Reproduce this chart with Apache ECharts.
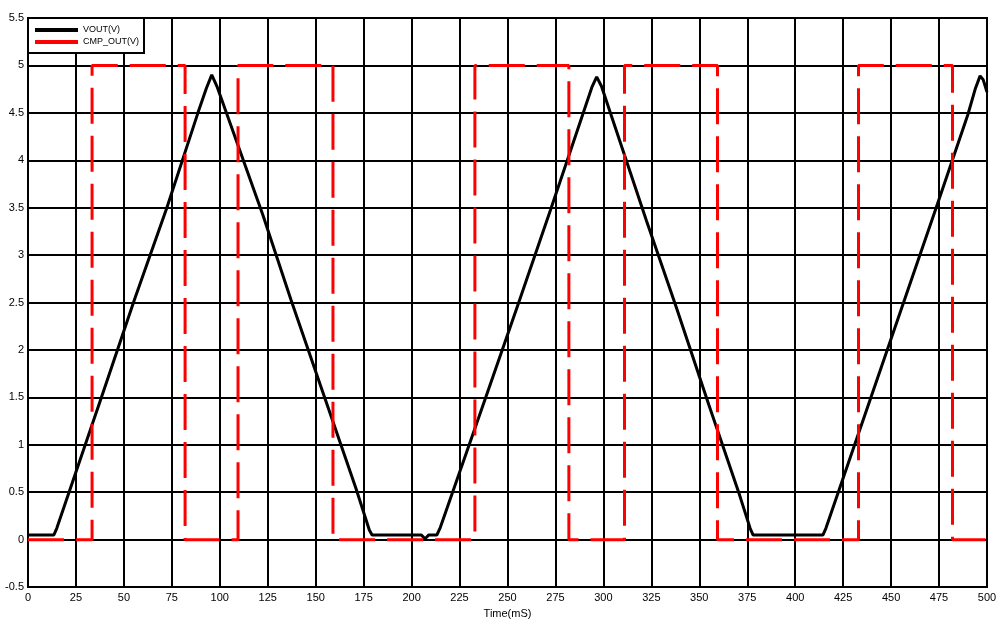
<!DOCTYPE html>
<html>
<head>
<meta charset="utf-8">
<title>VOUT / CMP_OUT</title>
<script src="https://cdn.jsdelivr.net/npm/echarts@6/dist/echarts.min.js"></script>
<style>
  html, body { margin: 0; padding: 0; background: #fff; }
  #chart { width: 1007px; height: 624px; }
</style>
</head>
<body>
<div id="chart"></div>
<script>
// x axis (ms) and y axis (V) ranges
var timeRange = [0, 500, 25];
var voltRange = [-0.5, 5.5, 0.5];

// VOUT(V): triangle wave, [time, volts]
var vout = [
  [0, 0.05], [13.5, 0.05], [15, 0.12], [39.1, 1.55], [55.3, 2.52], [72.4, 3.5],
  [88.6, 4.5], [93, 4.76], [95.8, 4.9], [98.5, 4.78], [122.5, 3.42], [137.1, 2.53],
  [154.3, 1.52], [171, 0.54], [178, 0.1], [179.4, 0.05], [205, 0.05], [207, 0.01],
  [209, 0.05], [213.2, 0.05], [215, 0.13], [239, 1.52], [255.5, 2.48], [272.5, 3.48],
  [289, 4.47], [294, 4.77], [296.5, 4.88], [299, 4.78], [322.5, 3.36], [338, 2.45],
  [355, 1.42], [371, 0.47], [376.5, 0.12], [378, 0.05], [414.5, 0.05], [416, 0.12],
  [440, 1.53], [456.5, 2.5], [473.5, 3.5], [490, 4.48], [494, 4.76], [496.4, 4.89],
  [498, 4.85], [500, 4.72]
];

// CMP_OUT(V): square wave, [time, volts]
var cmpOut = [
  [0, 0], [33.4, 0], [33.4, 5], [81.9, 5], [81.9, 0], [109.5, 0], [109.5, 5],
  [159, 5], [159, 0], [233, 0], [233, 5], [282, 5], [282, 0], [311, 0], [311, 5],
  [359.5, 5], [359.5, 0], [433, 0], [433, 5], [482, 5], [482, 0], [500, 0]
];

var seriesNames = ['VOUT(V)', 'CMP_OUT(V)'];
var xName = 'Time(mS)';

var chart = echarts.init(document.getElementById('chart'));
var font = 'Liberation Sans, Arial, sans-serif';

chart.setOption({
  animation: false,
  backgroundColor: '#fff',
  textStyle: { fontFamily: font },
  grid: {
    left: 28, right: 20, top: 18, bottom: 36,
    show: true, borderColor: '#000', borderWidth: 2
  },
  legend: {
    orient: 'vertical',
    left: 28, top: 18,
    padding: [6, 5, 5, 7],
    itemGap: 0,
    itemWidth: 43,
    itemHeight: 4,
    icon: 'rect',
    backgroundColor: '#fff',
    borderColor: '#000',
    borderWidth: 2,
    borderRadius: 0,
    textStyle: { color: '#000', fontSize: 9, fontFamily: font, lineHeight: 12 },
    data: seriesNames
  },
  xAxis: {
    type: 'value',
    min: timeRange[0], max: timeRange[1], interval: timeRange[2],
    name: xName,
    nameLocation: 'middle',
    nameGap: 18,
    nameTextStyle: { color: '#000', fontSize: 11, fontFamily: font },
    axisLine: { show: true, lineStyle: { color: '#000', width: 2 } },
    axisTick: { show: false },
    axisLabel: { color: '#000', fontSize: 11, margin: 5, fontFamily: font },
    splitLine: { show: true, lineStyle: { color: '#000', width: 2 } }
  },
  yAxis: {
    type: 'value',
    min: voltRange[0], max: voltRange[1], interval: voltRange[2],
    axisLine: { show: true, lineStyle: { color: '#000', width: 2 } },
    axisTick: { show: false },
    axisLabel: { color: '#000', fontSize: 11, margin: 4, fontFamily: font },
    splitLine: { show: true, lineStyle: { color: '#000', width: 2 } }
  },
  series: [
    {
      name: seriesNames[0],
      type: 'line',
      data: vout,
      symbol: 'none',
      itemStyle: { color: '#000' },
      lineStyle: { color: '#000', width: 3 },
      z: 3
    },
    {
      name: seriesNames[1],
      type: 'line',
      data: cmpOut,
      symbol: 'none',
      itemStyle: { color: '#ff0000' },
      lineStyle: { color: '#ff0000', width: 3, type: [36, 12] },
      z: 4
    }
  ]
});
</script>
</body>
</html>
